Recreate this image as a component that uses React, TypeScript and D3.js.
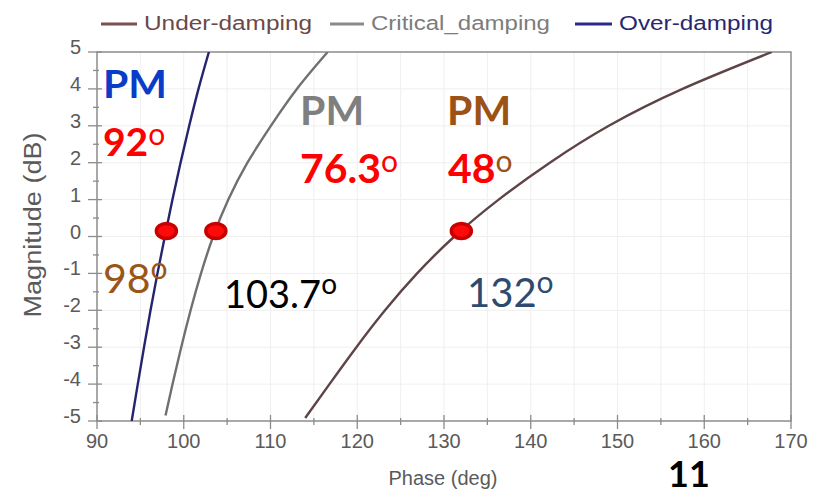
import React from "react";
import * as d3 from "d3";

// Magnitude (dB) / phase (deg) samples for each damping case
const overMag = [-5, -4, -3, -2, -1, 0, 1, 2, 3, 4, 5];
const overPhase = [94.0, 94.7, 95.42, 96.17, 96.97, 97.82, 98.7, 99.63, 100.63, 101.7, 102.9];

const criticalMag = [-4.85, -4, -3, -2, -1, 0, 1, 2, 3, 4, 5];
const criticalPhase = [97.9, 98.71, 99.71, 100.79, 101.99, 103.39, 105.14, 107.34, 110.04, 113.04, 116.59];

const underMag = [-4.92, -4, -3, -2, -1, 0, 1, 2, 3, 4, 5];
const underPhase = [114.0, 116.8, 119.9, 123.2, 126.9, 131.2, 136.3, 142.2, 149.0, 157.5, 167.8];

// Gain-crossover points (phase at the 0 dB crossing) and phase margins
const crossPhase = [98, 103.7, 132];
const crossMag = [0.15, 0.15, 0.15];
const phaseMargins = [92, 76.3, 48];

const legendNames = ["Under-damping", "Critical_damping", "Over-damping"];
const xTicks = [90, 100, 110, 120, 130, 140, 150, 160, 170];
const yTicks = [5, 4, 3, 2, 1, 0, -1, -2, -3, -4, -5];

const W = 834;
const H = 496;
const left = 97;
const right = 791;
const top = 52;
const bottom = 421;

const axisFont = "'Liberation Sans', Arial, sans-serif";
const noteFont = "Lato, 'Open Sans', sans-serif";

export default function App() {
  const x = d3.scaleLinear().domain([90, 170]).range([left, right]);
  const y = d3.scaleLinear().domain([-5, 5]).range([bottom, top]);

  const line = d3
    .line<[number, number]>()
    .x((d) => x(d[0]))
    .y((d) => y(d[1]))
    .curve(d3.curveNatural);

  const series = [
    { phase: underPhase, mag: underMag, color: "#5e4446" },
    { phase: criticalPhase, mag: criticalMag, color: "#707070" },
    { phase: overPhase, mag: overMag, color: "#25256f" },
  ];

  const legendColors = ["#7a5050", "#8a8a8a", "#2c2c88"];
  const legendText = ["#6c4848", "#7c7c7c", "#27276f"];
  const legendLine = [
    [101, 137],
    [330, 364],
    [575, 612],
  ];
  const legendWidth = [168, 179, 154];

  const xMinor = d3.range(95, 170, 10);
  const yMinor = d3.range(-4.5, 5, 1);
  const gridX = d3.range(95, 170, 5);
  const gridY = d3.range(-4, 5, 1);

  const deg = (
    xp: number,
    yb: number,
    main: string,
    size: number,
    weight: number,
    color: string,
    oColor: string,
    oSize: number,
    oRise: number
  ) => (
    <text x={xp} y={yb} fontFamily={noteFont} fontSize={size} fontWeight={weight} fill={color}>
      {main}
      <tspan fontSize={oSize} fontWeight={400} fill={oColor} dy={-oRise}>
        o
      </tspan>
    </text>
  );

  return (
    <svg
      width={W}
      height={H}
      viewBox={`0 0 ${W} ${H}`}
      style={{ position: "absolute", left: 0, top: 0, background: "#fff" }}
    >
      <defs>
        <clipPath id="plot">
          <rect x={left} y={top} width={right - left} height={bottom - top} />
        </clipPath>
      </defs>

      {/* faint grid */}
      <g stroke="#efefef" strokeWidth={1}>
        {gridX.map((v) => (
          <line key={"gx" + v} x1={x(v)} x2={x(v)} y1={top} y2={bottom} />
        ))}
        {gridY.map((v) => (
          <line key={"gy" + v} x1={left} x2={right} y1={y(v)} y2={y(v)} />
        ))}
      </g>

      {/* frame */}
      <rect x={left} y={top} width={right - left} height={bottom - top} fill="none" stroke="#8c8c8c" strokeWidth={1.5} />

      {/* ticks */}
      <g stroke="#8c8c8c" strokeWidth={1.3}>
        {xTicks.map((v) => (
          <line key={"xt" + v} x1={x(v)} x2={x(v)} y1={bottom - 6} y2={bottom + 8} />
        ))}
        {xMinor.map((v) => (
          <line key={"xm" + v} x1={x(v)} x2={x(v)} y1={bottom - 3} y2={bottom + 4} />
        ))}
        {yTicks.map((v) => (
          <line key={"yt" + v} x1={left - 9} x2={left + 5} y1={y(v)} y2={y(v)} />
        ))}
        {yMinor.map((v) => (
          <line key={"ym" + v} x1={left - 4} x2={left + 2} y1={y(v)} y2={y(v)} />
        ))}
      </g>

      {/* tick labels */}
      <g fontFamily={axisFont} fontSize={20} fill="#5a5a5a">
        {xTicks.map((v) => (
          <text key={"xl" + v} x={x(v)} y={bottom + 27} textAnchor="middle">
            {v}
          </text>
        ))}
        {yTicks.map((v) => (
          <text key={"yl" + v} x={left - 16} y={y(v) + 2} textAnchor="end">
            {v}
          </text>
        ))}
      </g>

      {/* axis titles */}
      <text x={443} y={485} textAnchor="middle" fontFamily={axisFont} fontSize={20} fill="#5a5a5a">
        Phase (deg)
      </text>
      <text
        transform={`translate(41,225) rotate(-90)`}
        textAnchor="middle"
        fontFamily={axisFont}
        fontSize={23}
        fill="#5a5a5a"
        textLength={185}
        lengthAdjust="spacingAndGlyphs"
      >
        Magnitude (dB)
      </text>

      {/* legend */}
      {legendNames.map((name, i) => (
        <g key={name}>
          <line
            x1={legendLine[i][0]}
            x2={legendLine[i][1]}
            y1={24}
            y2={24}
            stroke={legendColors[i]}
            strokeWidth={3}
          />
          <text
            x={legendLine[i][1] + 7}
            y={30}
            fontFamily={axisFont}
            fontSize={20}
            fill={legendText[i]}
            textLength={legendWidth[i]}
            lengthAdjust="spacingAndGlyphs"
          >
            {name}
          </text>
        </g>
      ))}

      {/* response curves */}
      <g clipPath="url(#plot)" fill="none">
        {series.map((s, i) => (
          <path
            key={i}
            d={line(s.phase.map((p, k) => [p, s.mag[k]] as [number, number])) || ""}
            stroke={s.color}
            strokeWidth={2.4}
          />
        ))}
      </g>

      {/* crossover markers */}
      {crossPhase.map((p, i) => (
        <ellipse
          key={"m" + i}
          cx={x(p)}
          cy={y(crossMag[i])}
          rx={10}
          ry={7.5}
          fill="#ff0a0a"
          stroke="#c80000"
          strokeWidth={3.5}
        />
      ))}

      {/* phase-margin annotations */}
      <text
        x={103}
        y={98}
        fontFamily={noteFont}
        fontSize={38}
        fontWeight={700}
        fill="#0b3cc8"
        textLength={64}
        lengthAdjust="spacingAndGlyphs"
      >
        PM
      </text>
      {deg(103, 156, String(phaseMargins[0]), 39, 700, "#ff0000", "#ff0000", 30, 11)}
      {deg(103, 293, String(crossPhase[0]), 41, 400, "#9a5518", "#9a5518", 30, 14)}

      <text x={300} y={125} fontFamily={noteFont} fontSize={41} fontWeight={700} fill="#7f7f7f">
        PM
      </text>
      {deg(300, 183, String(phaseMargins[1]), 41, 700, "#ff0000", "#ff0000", 30, 11)}
      {deg(224, 308, String(crossPhase[1]), 38, 400, "#000000", "#000000", 28, 14)}

      <text x={447} y={125} fontFamily={noteFont} fontSize={41} fontWeight={700} fill="#9c5214">
        PM
      </text>
      {deg(448, 183, String(phaseMargins[2]), 41, 700, "#ff0000", "#9c5214", 30, 11)}
      {deg(467, 307, String(crossPhase[2]), 40, 400, "#2e4a6e", "#2e4a6e", 30, 14)}

      <text x={668} y={487} fontFamily={noteFont} fontSize={36} fontWeight={700} fill="#000">
        11
      </text>
    </svg>
  );
}
